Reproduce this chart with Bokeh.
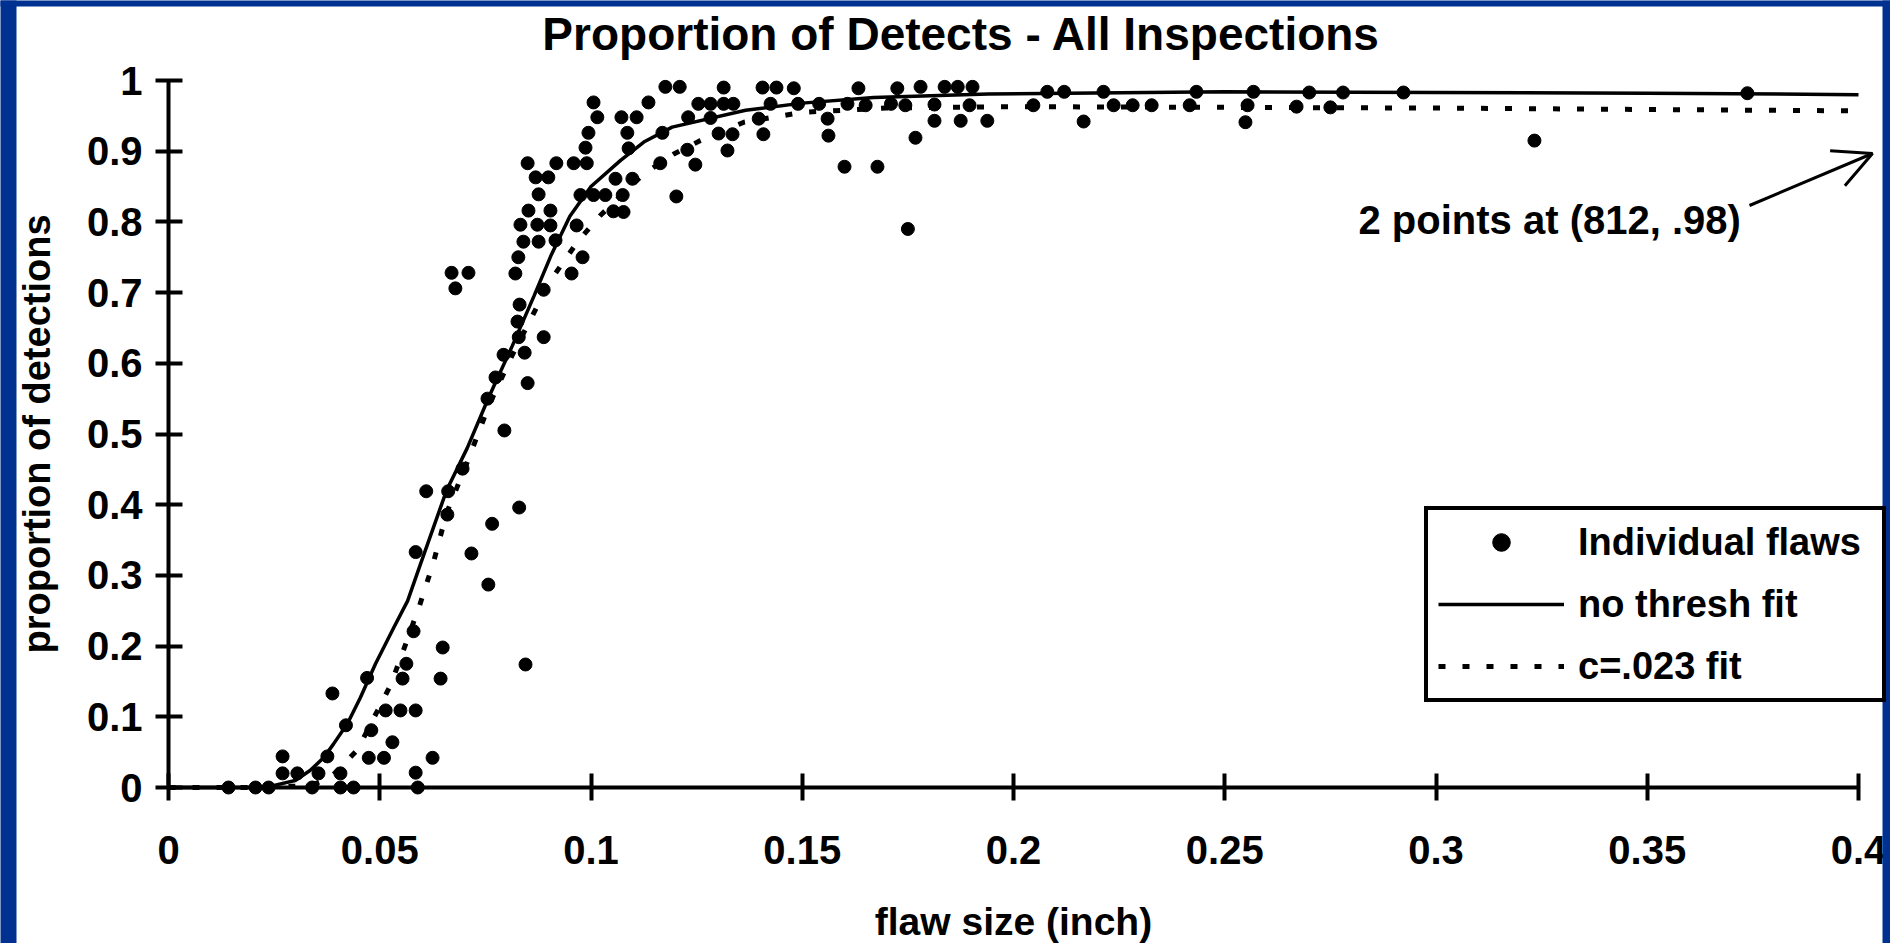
from bokeh.plotting import figure
from bokeh.models import (LinearAxis, FixedTicker, Range1d, Legend, LegendItem,
                          Label, Arrow, OpenHead, BoxAnnotation)
from bokeh.embed import file_html
from bokeh.resources import INLINE

# ---------------- data ----------------
title_text = "Proportion of Detects - All Inspections"
x_label = "flaw size (inch)"
y_label = "proportion of detections"

x_ticks = [0.0, 0.05, 0.1, 0.15, 0.2, 0.25, 0.3, 0.35, 0.4]
x_tick_labels = ["0", "0.05", "0.1", "0.15", "0.2", "0.25", "0.3", "0.35", "0.4"]
y_ticks = [0.0, 0.1, 0.2, 0.3, 0.4, 0.5, 0.6, 0.7, 0.8, 0.9, 1.0]
y_tick_labels = ["0", "0.1", "0.2", "0.3", "0.4", "0.5", "0.6", "0.7", "0.8", "0.9", "1"]

flaw_size = [
    0.0142, 0.0206, 0.0237, 0.0270, 0.0270, 0.0305, 0.0340, 0.0355, 0.0376, 0.0407,
    0.0407, 0.0438, 0.0388, 0.0420, 0.0470, 0.0480, 0.0474, 0.0510, 0.0514, 0.0549,
    0.0585, 0.0530, 0.0554, 0.0563, 0.0580, 0.0585, 0.0590, 0.0625, 0.0644, 0.0649,
    0.0757, 0.0845, 0.0585, 0.0717,
    0.0610, 0.0662, 0.0660, 0.0696, 0.0755, 0.0774, 0.0793, 0.0843, 0.0829, 0.0888,
    0.0826, 0.0831, 0.0850, 0.0795, 0.0830, 0.0766, 0.0670, 0.0710, 0.0679,
    0.0888, 0.0821, 0.0954, 0.0828, 0.0980, 0.0840, 0.0876, 0.0916,
    0.0833, 0.0873, 0.0904, 0.0966, 0.0852, 0.0904, 0.1053, 0.1077,
    0.0876, 0.0975, 0.1006, 0.1034, 0.1075, 0.1202,
    0.0869, 0.0899, 0.1058, 0.1098,
    0.0850, 0.0918, 0.0959, 0.0990, 0.1164, 0.1247, 0.1600, 0.1678,
    0.0987, 0.1089, 0.1228, 0.1323,
    0.0994, 0.1086, 0.1169, 0.1302, 0.1335, 0.1408, 0.1562,
    0.1015, 0.1072, 0.1108, 0.1230, 0.1283, 0.1397, 0.1560,
    0.1006, 0.1136, 0.1254, 0.1283, 0.1314, 0.1337, 0.1425, 0.1490, 0.1540, 0.1607,
    0.1650, 0.1710,
    0.1176, 0.1210, 0.1314, 0.1406, 0.1439, 0.1480, 0.1633, 0.1725,
    0.1780, 0.1837, 0.1868, 0.1903,
    0.2080, 0.2120, 0.2213, 0.2433, 0.2568, 0.2700, 0.2780, 0.2923, 0.3737,
    0.1744, 0.1813, 0.1896, 0.2047, 0.2237, 0.2282, 0.2327, 0.2417, 0.2554, 0.2670,
    0.2750,
    0.1813, 0.1875, 0.1938, 0.2166, 0.2549,
    0.1768, 0.3233, 0.1750,
]
proportion = [
    0.000, 0.000, 0.000, 0.044, 0.020, 0.020, 0.000, 0.020, 0.044, 0.020,
    0.000, 0.000, 0.133, 0.088, 0.155, 0.081, 0.042, 0.042, 0.109, 0.109,
    0.109, 0.064, 0.154, 0.175, 0.221, 0.021, 0.000, 0.042, 0.154, 0.198,
    0.287, 0.174, 0.333, 0.331,
    0.419, 0.419, 0.386, 0.451, 0.550, 0.580, 0.612, 0.615, 0.637, 0.637,
    0.659, 0.683, 0.572, 0.505, 0.396, 0.373, 0.728, 0.728, 0.706,
    0.704, 0.727, 0.727, 0.750, 0.750, 0.772, 0.772, 0.774,
    0.796, 0.796, 0.795, 0.795, 0.816, 0.816, 0.815, 0.814,
    0.839, 0.838, 0.838, 0.838, 0.838, 0.836,
    0.863, 0.863, 0.861, 0.861,
    0.883, 0.883, 0.883, 0.883, 0.883, 0.881, 0.878, 0.878,
    0.905, 0.904, 0.902, 0.901,
    0.926, 0.926, 0.926, 0.925, 0.924, 0.924, 0.922,
    0.948, 0.948, 0.948, 0.948, 0.947, 0.946, 0.946,
    0.969, 0.969, 0.967, 0.967, 0.967, 0.967, 0.967, 0.967, 0.967, 0.967,
    0.965, 0.967,
    0.991, 0.991, 0.990, 0.990, 0.990, 0.989, 0.989, 0.989,
    0.991, 0.991, 0.991, 0.991,
    0.984, 0.984, 0.984, 0.984, 0.984, 0.983, 0.983, 0.983, 0.982,
    0.965, 0.966, 0.965, 0.965, 0.965, 0.965, 0.965, 0.965, 0.965, 0.963,
    0.962,
    0.943, 0.943, 0.943, 0.942, 0.941,
    0.919, 0.915, 0.790,
]

no_thresh_x = [0.0, 0.020, 0.025, 0.030, 0.0335, 0.0367, 0.0390, 0.0424, 0.0454, 0.0490,
               0.0533, 0.0566, 0.0597, 0.0658, 0.0707, 0.0758, 0.0814, 0.0865, 0.0905,
               0.0950, 0.1000, 0.1070, 0.1125, 0.1192, 0.1366, 0.1500, 0.1669, 0.1940,
               0.2500, 0.3000, 0.3500, 0.4000]
no_thresh_y = [0.0, 0.000, 0.003, 0.010, 0.024, 0.042, 0.061, 0.091, 0.127, 0.175,
               0.226, 0.264, 0.317, 0.420, 0.480, 0.552, 0.625, 0.695, 0.752,
               0.808, 0.850, 0.887, 0.913, 0.934, 0.958, 0.968, 0.976, 0.981,
               0.984, 0.983, 0.982, 0.980]

c023_x = [0.0, 0.023, 0.030, 0.035, 0.0383, 0.0447, 0.0525, 0.0556, 0.0594, 0.0627,
          0.0658, 0.0707, 0.0758, 0.0814, 0.0904, 0.0967, 0.1022, 0.1125, 0.1196,
          0.1259, 0.1362, 0.1500, 0.1700, 0.2000, 0.2500, 0.3000, 0.3500, 0.4000]
c023_y = [0.0, 0.000, 0.002, 0.006, 0.014, 0.053, 0.144, 0.194, 0.257, 0.318,
          0.388, 0.460, 0.540, 0.612, 0.717, 0.771, 0.809, 0.868, 0.896,
          0.915, 0.941, 0.955, 0.961, 0.963, 0.962, 0.961, 0.959, 0.957]

note_text = "2 points at (812, .98)"

# ---------------- layout (pixels) ----------------
W, H = 1890, 943
X0_PX, PX_PER_X = 168.0, 4225.0
Y0_PX, PX_PER_Y = 787.0, 707.0
BLUE = "#003090"
FONT = "Liberation Sans"


def dx(px):
    return (px - X0_PX) / PX_PER_X


def dy(py):
    return (Y0_PX - py) / PX_PER_Y


p = figure(width=W, height=H,
           x_range=Range1d(dx(0), dx(W)), y_range=Range1d(dy(H), dy(0)),
           x_axis_location=None, y_axis_location=None,
           toolbar_location=None, output_backend="svg",
           min_border=0, min_border_left=0, min_border_right=0,
           min_border_top=0, min_border_bottom=0,
           background_fill_color="white", border_fill_color="white")
p.outline_line_color = None
p.grid.visible = False
p.xgrid.visible = False
p.ygrid.visible = False


def style_axis(ax):
    ax.axis_line_width = 4
    ax.axis_line_color = "black"
    ax.major_tick_line_width = 4
    ax.major_tick_line_color = "black"
    ax.major_tick_in = 14
    ax.major_tick_out = 13
    ax.minor_tick_line_color = None
    ax.major_label_text_font = FONT
    ax.major_label_text_font_style = "bold"
    ax.major_label_text_font_size = "40px"
    ax.major_label_text_color = "black"
    ax.axis_label_text_font = FONT
    ax.axis_label_text_font_style = "bold"
    ax.axis_label_text_color = "black"


xaxis = LinearAxis(fixed_location=0, bounds=(0, 0.4),
                   ticker=FixedTicker(ticks=x_ticks, minor_ticks=[]),
                   axis_label=x_label)
style_axis(xaxis)
xaxis.major_label_overrides = {t: s for t, s in zip(x_ticks, x_tick_labels)}
xaxis.major_label_standoff = 35
xaxis.axis_label_text_font_size = "39px"
xaxis.axis_label_standoff = 33
p.add_layout(xaxis, "below")

yaxis = LinearAxis(fixed_location=0, bounds=(0, 1),
                   ticker=FixedTicker(ticks=y_ticks, minor_ticks=[]),
                   axis_label=y_label)
style_axis(yaxis)
yaxis.major_label_overrides = {t: s for t, s in zip(y_ticks, y_tick_labels)}
yaxis.major_label_standoff = 13
yaxis.axis_label_text_font_size = "38px"
yaxis.axis_label_standoff = 26
p.add_layout(yaxis, "left")

r_solid = p.line(no_thresh_x, no_thresh_y, line_color="black", line_width=3.5)
r_dot = p.line(c023_x, c023_y, line_color="black", line_width=5, line_dash="7 17")
r_pts = p.scatter(flaw_size, proportion, marker="circle", size=13,
                  fill_color="black", line_color="black")

legend = Legend(items=[LegendItem(label="Individual flaws", renderers=[r_pts]),
                       LegendItem(label="no thresh fit", renderers=[r_solid]),
                       LegendItem(label="c=.023 fit", renderers=[r_dot])],
                location=(1424, 241), orientation="vertical",
                glyph_width=126, glyph_height=44, label_standoff=14,
                label_width=294, spacing=18, padding=10, margin=0,
                border_line_color="black", border_line_width=4, border_line_alpha=1.0,
                background_fill_color="white", background_fill_alpha=1.0,
                label_text_font=FONT, label_text_font_style="bold",
                label_text_font_size="38px", label_text_color="black")
p.add_layout(legend)

p.add_layout(Label(x=dx(961), y=dy(33), text=title_text, text_align="center",
                   text_baseline="middle", text_font=FONT, text_font_style="bold",
                   text_font_size="46px", text_color="black"))

p.add_layout(Label(x=dx(1358), y=dy(219), text=note_text, text_align="left",
                   text_baseline="middle", text_font=FONT, text_font_style="bold",
                   text_font_size="40px", text_color="black"))

p.add_layout(Arrow(end=OpenHead(size=38, line_width=3, line_color="black"),
                   x_start=dx(1749), y_start=dy(205), x_end=dx(1872), y_end=dy(153),
                   line_width=3, line_color="black"))

# blue slide frame strips (left, right, top)
strips = [(-60, 16, -60, H + 60), (1882, W + 60, -60, H + 60), (-60, W + 60, -60, 6)]
for lpx, rpx, tpx, bpx in strips:
    p.add_layout(BoxAnnotation(left=dx(lpx), right=dx(rpx), top=dy(tpx), bottom=dy(bpx),
                               fill_color=BLUE, fill_alpha=1.0,
                               line_color=None, line_alpha=0.0, level="overlay"))

open("out.html", "w").write(file_html(p, INLINE))
